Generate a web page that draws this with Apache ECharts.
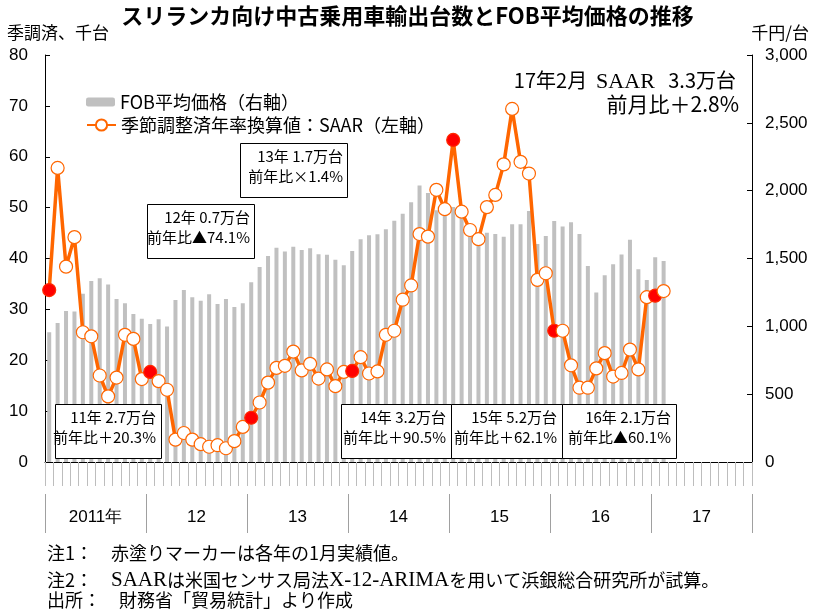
<!DOCTYPE html>
<html>
<head>
<meta charset="utf-8">
<script src="https://cdn.jsdelivr.net/npm/echarts@6/dist/echarts.min.js"></script>
<style>html,body{margin:0;padding:0;background:#fff;}#c{width:815px;height:610px;}</style>
</head>
<body>
<div id="c"></div>
<script>
// ---- data ----
const years = ['2011年', '12', '13', '14', '15', '16', '17'];
const monthsPerYear = 12;
// SAAR (千台, left axis), Jan 2011 .. Feb 2017
const saar = [33.8, 57.8, 38.4, 44.2, 25.5, 24.7, 17.0, 12.9, 16.6, 25.0, 24.2, 16.3,
  17.7, 15.9, 14.2, 4.4, 5.7, 4.4, 3.5, 3.0, 3.3, 2.7, 4.1, 6.9,
  8.7, 11.7, 15.6, 18.5, 18.9, 21.7, 18.0, 19.3, 16.4, 18.2, 14.9, 17.7,
  17.9, 20.6, 17.4, 17.8, 25.0, 25.8, 31.9, 34.7, 44.8, 44.3, 53.5, 49.7,
  63.3, 49.2, 45.6, 43.8, 50.1, 52.5, 58.5, 69.4, 59.0, 56.7, 35.8, 37.1,
  25.8, 25.8, 19.0, 14.6, 14.6, 18.4, 21.4, 16.8, 17.5, 22.1, 18.2, 32.4,
  32.7, 33.6];
// FOB average price (千円/台, right axis)
const fob = [956, 1025, 1113, 1110, 1240, 1335, 1355, 1308, 1201, 1170, 1091, 1055,
  1017, 1053, 998, 1194, 1268, 1215, 1188, 1237, 1165, 1201, 1143, 1171,
  1325, 1437, 1518, 1580, 1552, 1587, 1563, 1575, 1531, 1528, 1491, 1450,
  1555, 1641, 1671, 1678, 1715, 1779, 1830, 1914, 2039, 1982, 1855, 1835,
  1880, 1865, 1740, 1695, 1690, 1681, 1661, 1752, 1752, 1850, 1606, 1666,
  1776, 1735, 1767, 1680, 1445, 1250, 1377, 1457, 1530, 1638, 1420, 1342,
  1509, 1482];
const leftTicks = [0, 80, 10];
const rightTicks = [0, 3000, 500];
const boxes = [
  ['11年 2.7万台', '前年比＋20.3%'],
  ['12年 0.7万台', '前年比▲74.1%'],
  ['13年 1.7万台', '前年比×1.4%'],
  ['14年 3.2万台', '前年比＋90.5%'],
  ['15年 5.2万台', '前年比＋62.1%'],
  ['16年 2.1万台', '前年比▲60.1%']
];

// ---- build ----
const months = [];
years.forEach((y, yi) => { for (let m = 1; m <= monthsPerYear; m++) months.push((2011 + yi) + '-' + m); });
const saarData = saar.map((v, i) => (i % 12 === 0)
  ? { value: v, itemStyle: { color: '#ff0000', borderColor: '#ff2a00' } }
  : v);

const JP = '"Noto Sans CJK JP", "Noto Sans", sans-serif';
const SERIF = '"Liberation Serif", "DejaVu Serif", serif';
const NARROW = '"Liberation Sans Narrow", "Liberation Sans", Arial, sans-serif';

// box geometry [left, top, width, height, rightTextX]
const boxGeo = [
  [55, 404, 106, 54, 156],
  [147, 204, 107, 54, 250],
  [240, 143, 107, 54, 343],
  [341, 404, 110, 54, 446],
  [451, 404, 111, 54, 557],
  [562, 404, 114, 54, 671]
];
const graphics = [];
boxes.forEach((b, i) => {
  const g = boxGeo[i];
  graphics.push({ type: 'rect', z: 100, shape: { x: g[0] + 0.5, y: g[1] + 0.5, width: g[2], height: g[3] },
    style: { fill: '#fff', stroke: '#000', lineWidth: 1 } });
  graphics.push({ type: 'text', z: 101, x: g[4], y: g[1] + 13,
    style: { text: b[0], font: '15px ' + JP, fill: '#000', textAlign: 'right', textVerticalAlign: 'middle' } });
  graphics.push({ type: 'text', z: 101, x: g[4], y: g[1] + 33,
    style: { text: b[1], font: '15px ' + JP, fill: '#000', textAlign: 'right', textVerticalAlign: 'middle' } });
});
graphics.push(
  { type: 'text', x: 7, y: 33, style: { text: '季調済、千台', font: '17px ' + JP, fill: '#000', textVerticalAlign: 'middle' } },
  { type: 'text', x: 809, y: 33, style: { text: '千円/台', font: '17px ' + JP, fill: '#000', textAlign: 'right', textVerticalAlign: 'middle' } },
  { type: 'text', x: 736, y: 80, style: { text: '17年2月  {s|SAAR}   3.3万台', font: '20px ' + JP, fill: '#000', lineHeight: 26,
      rich: { s: { fontFamily: SERIF, fontSize: 22, fill: '#000', lineHeight: 26, verticalAlign: 'middle', padding: [5, 0, 0, 0] } },
      textAlign: 'right', textVerticalAlign: 'middle' } },
  { type: 'text', x: 739, y: 104, style: { text: '前月比＋2.8%', font: '21px ' + JP, fill: '#000', textAlign: 'right', textVerticalAlign: 'middle' } },
  { type: 'text', x: 47, y: 553, style: { text: '注1：　赤塗りマーカーは各年の1月実績値。', font: '18px ' + JP, fill: '#000', textVerticalAlign: 'middle' } },
  { type: 'text', x: 47, y: 580, style: { text: '注2：　{s|SAAR}は米国センサス局法{s|X-12-ARIMA}を用いて浜銀総合研究所が試算。', font: '18px ' + JP, fill: '#000',
      rich: { s: { fontFamily: SERIF, fontSize: 21, fill: '#000' } }, textVerticalAlign: 'middle' } },
  { type: 'text', x: 47, y: 600, style: { text: '出所：　財務省「貿易統計」より作成', font: '18px ' + JP, fill: '#000', textVerticalAlign: 'middle' } }
);

const chart = echarts.init(document.getElementById('c'), null, { renderer: 'canvas' });
chart.setOption({
  animation: false,
  backgroundColor: '#fff',
  title: { text: 'スリランカ向け中古乗用車輸出台数とFOB平均価格の推移', left: 'center', top: 0,
    textStyle: { fontFamily: JP, fontSize: 22, fontWeight: 'bold', color: '#000' } },
  legend: [
    { data: ['FOB平均価格（右軸）'], left: 81, top: 88, itemWidth: 29, itemHeight: 9, itemGap: 5,
      textStyle: { fontFamily: JP, fontSize: 18, color: '#000' } },
    { data: ['季節調整済年率換算値：SAAR（左軸）'], left: 81, top: 111, itemWidth: 29, itemHeight: 14,
      textStyle: { fontFamily: JP, fontSize: 18, color: '#000' } }
  ],
  grid: { left: 45, right: 63, top: 55, bottom: 148 },
  xAxis: [
    { type: 'category', data: months, position: 'bottom', boundaryGap: true,
      axisLine: { lineStyle: { color: '#000', width: 1 } },
      axisTick: { show: true, interval: 0, length: 8, lineStyle: { color: '#000' } },
      axisLabel: { show: false }, splitLine: { show: false } },
    { type: 'category', data: months, position: 'bottom', offset: 8, boundaryGap: true,
      axisLine: { show: false },
      axisTick: { show: true, interval: 0, length: 24, lineStyle: { color: '#bdbdbd' } },
      axisLabel: { show: false }, splitLine: { show: false } },
    { type: 'category', data: years, position: 'bottom', offset: 32, boundaryGap: true,
      axisLine: { show: false },
      axisTick: { show: true, interval: 0, length: 39, lineStyle: { color: '#a0a0a0' } },
      axisLabel: { show: true, interval: 0, margin: 15, fontFamily: NARROW, fontSize: 17, color: '#000' },
      splitLine: { show: false } }
  ],
  yAxis: [
    { type: 'value', min: leftTicks[0], max: leftTicks[1], interval: leftTicks[2], position: 'left',
      axisLine: { show: true, lineStyle: { color: '#000' } },
      axisTick: { show: true, inside: true, length: 5, lineStyle: { color: '#000' } },
      axisLabel: { margin: 17, fontFamily: NARROW, fontSize: 17, color: '#000' },
      splitLine: { show: false } },
    { type: 'value', min: rightTicks[0], max: rightTicks[1], interval: rightTicks[2], position: 'right',
      axisLine: { show: true, lineStyle: { color: '#000' } },
      axisTick: { show: true, inside: true, length: 5, lineStyle: { color: '#000' } },
      axisLabel: { margin: 13, fontFamily: NARROW, fontSize: 17, color: '#000',
        formatter: v => v.toLocaleString('en-US') },
      splitLine: { show: false } }
  ],
  series: [
    { name: 'FOB平均価格（右軸）', type: 'bar', xAxisIndex: 0, yAxisIndex: 1, data: fob,
      barWidth: 4, itemStyle: { color: '#c0c0c0' }, z: 1 },
    { name: '季節調整済年率換算値：SAAR（左軸）', type: 'line', xAxisIndex: 0, yAxisIndex: 0, data: saarData,
      showAllSymbol: true,
      lineStyle: { color: '#ff6600', width: 3.5 }, symbol: 'circle', symbolSize: 13,
      itemStyle: { color: '#ffffff', borderColor: '#ff6600', borderWidth: 1.2 }, z: 5 }
  ],
  graphic: graphics
});
</script>
</body>
</html>
